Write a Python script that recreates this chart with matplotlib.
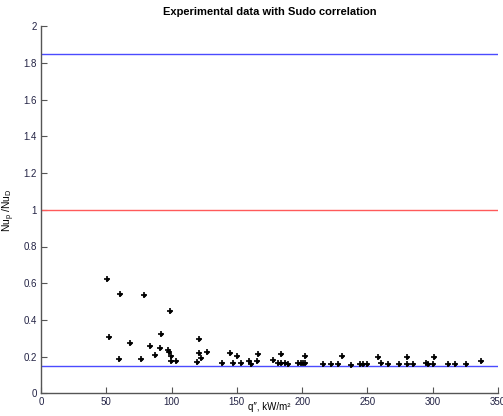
import numpy as np
from matplotlib import pyplot as plt

plt.rcParams['font.family'] = ['Liberation Sans', 'DejaVu Sans']
plt.rcParams['mathtext.default'] = 'regular'

# --- experimental points (heat flux, Nu ratio)
q_flux = [50.3, 51.8, 60.7, 59.7, 67.9, 78.6, 76.8, 83.5, 87.6, 90.9,
          91.7, 97.5, 98.3, 99.0, 99.3, 99.6, 103.1, 119.5, 121.3, 120.8,
          122.8, 126.9, 138.6, 144.7, 146.8, 149.9, 152.9, 159.3, 160.6, 165.2,
          165.9, 177.9, 181.8, 184.0, 183.8, 186.8, 188.8, 197.1, 198.9, 200.4,
          202.2, 202.2, 216.2, 222.1, 227.7, 230.8, 237.2, 244.3, 246.8, 249.4,
          258.1, 260.6, 265.7, 273.9, 280.2, 280.2, 285.1, 294.9, 296.6, 300.2,
          301.3, 311.7, 316.8, 325.5, 336.9]
nu_ratio = [0.621, 0.305, 0.543, 0.187, 0.274, 0.537, 0.185, 0.258, 0.207, 0.245,
            0.325, 0.236, 0.227, 0.450, 0.203, 0.176, 0.176, 0.169, 0.294, 0.217,
            0.191, 0.223, 0.165, 0.221, 0.165, 0.204, 0.163, 0.174, 0.158, 0.177,
            0.213, 0.181, 0.165, 0.212, 0.165, 0.165, 0.160, 0.165, 0.166, 0.163,
            0.163, 0.205, 0.160, 0.160, 0.160, 0.205, 0.154, 0.160, 0.160, 0.160,
            0.200, 0.164, 0.160, 0.160, 0.198, 0.160, 0.160, 0.164, 0.162, 0.160,
            0.198, 0.160, 0.160, 0.160, 0.176]

# --- reference lines
line_levels = [1.85, 1.0, 0.15]
line_colors = ['#4b4bff', '#ff5a5a', '#4b4bff']

x_ticks = [0, 50, 100, 150, 200, 250, 300, 350]
y_ticks = [0, 0.2, 0.4, 0.6, 0.8, 1, 1.2, 1.4, 1.6, 1.8, 2]
y_tick_labels = ['0', '0.2', '0.4', '0.6', '0.8', '1', '1.2', '1.4', '1.6', '1.8', '2']

fig = plt.figure(figsize=(5.03, 4.16), dpi=100)
ax = fig.add_axes([41/503, (416-393.3)/416, (498-41)/503, (393.3-26.3)/416])

for lev, col in zip(line_levels, line_colors):
    ax.axhline(lev, color=col, lw=1.0)

ax.plot(q_flux, nu_ratio, linestyle='none', marker='+', color='k',
        markersize=5, markeredgewidth=1.2)
ax.plot(q_flux, nu_ratio, linestyle='none', marker='o', color='k',
        markersize=1.6)

ax.set_xlim(0, 350)
ax.set_ylim(0, 2)
ax.set_xticks(x_ticks)
ax.set_yticks(y_ticks)
ax.set_yticklabels(y_tick_labels)
ax.tick_params(direction='in', length=4, labelsize=7, colors='#555555',
               labelcolor='#222244', pad=3)
for s in ['top', 'right']:
    ax.spines[s].set_visible(False)
for s in ['left', 'bottom']:
    ax.spines[s].set_color('#555555')
    ax.spines[s].set_linewidth(1.0)

ax.set_title('Experimental data with Sudo correlation', fontsize=8,
             fontweight='bold', pad=8)
ax.set_xlabel('q\u2033, kW/m\u00b2', fontsize=7)
ax.xaxis.set_label_coords(0.5, -0.024)
ax.set_ylabel('Nu$_p$ /Nu$_D$', fontsize=7.5)
ax.yaxis.set_label_coords(-0.052, 0.5)

fig.savefig('out.png', dpi=100)
